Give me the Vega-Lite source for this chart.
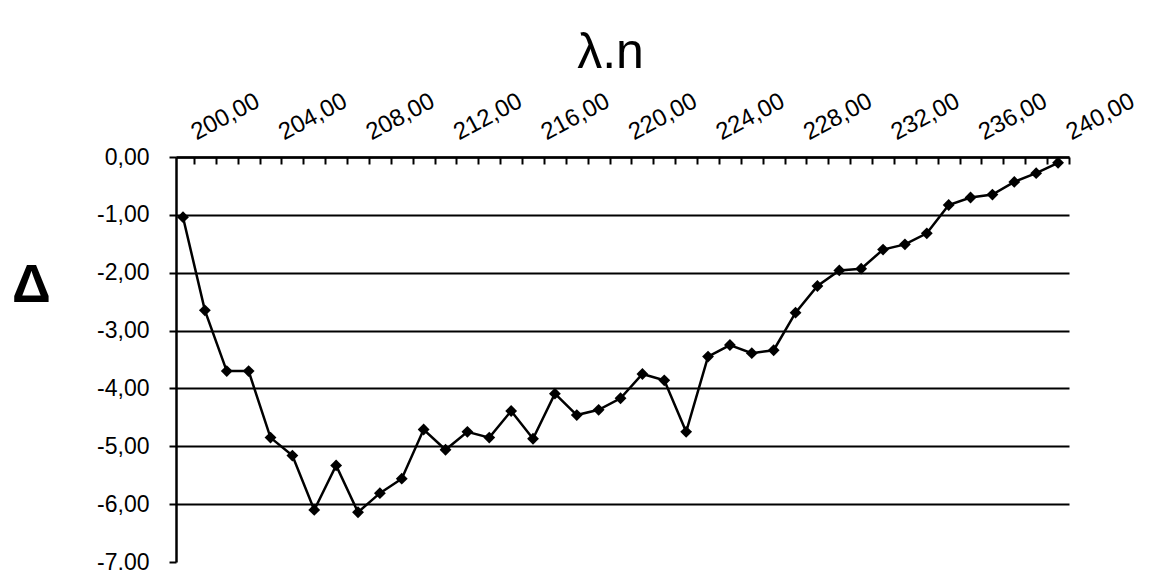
{
  "$schema": "https://vega.github.io/schema/vega-lite/v6.json",
  "autosize": "none",
  "width": 893,
  "height": 405,
  "padding": {"left": 176, "top": 157, "right": 83, "bottom": 8},
  "background": "white",
  "config": {
    "locale": {"number": {"decimal": ",", "thousands": ".", "grouping": [3], "currency": ["", ""], "minus": "-"}},
    "view": {"stroke": null},
    "font": "Liberation Sans"
  },
  "data": {
    "values": [
      {"lambda": 200, "delta": -1.04},
      {"lambda": 201, "delta": -2.65},
      {"lambda": 202, "delta": -3.70},
      {"lambda": 203, "delta": -3.70},
      {"lambda": 204, "delta": -4.85},
      {"lambda": 205, "delta": -5.16},
      {"lambda": 206, "delta": -6.10},
      {"lambda": 207, "delta": -5.33},
      {"lambda": 208, "delta": -6.14},
      {"lambda": 209, "delta": -5.81},
      {"lambda": 210, "delta": -5.56},
      {"lambda": 211, "delta": -4.71},
      {"lambda": 212, "delta": -5.06},
      {"lambda": 213, "delta": -4.75},
      {"lambda": 214, "delta": -4.85},
      {"lambda": 215, "delta": -4.39},
      {"lambda": 216, "delta": -4.87},
      {"lambda": 217, "delta": -4.09},
      {"lambda": 218, "delta": -4.46},
      {"lambda": 219, "delta": -4.37},
      {"lambda": 220, "delta": -4.17},
      {"lambda": 221, "delta": -3.75},
      {"lambda": 222, "delta": -3.86},
      {"lambda": 223, "delta": -4.75},
      {"lambda": 224, "delta": -3.45},
      {"lambda": 225, "delta": -3.25},
      {"lambda": 226, "delta": -3.39},
      {"lambda": 227, "delta": -3.34},
      {"lambda": 228, "delta": -2.69},
      {"lambda": 229, "delta": -2.23},
      {"lambda": 230, "delta": -1.96},
      {"lambda": 231, "delta": -1.93},
      {"lambda": 232, "delta": -1.60},
      {"lambda": 233, "delta": -1.51},
      {"lambda": 234, "delta": -1.32},
      {"lambda": 235, "delta": -0.83},
      {"lambda": 236, "delta": -0.70},
      {"lambda": 237, "delta": -0.65},
      {"lambda": 238, "delta": -0.43},
      {"lambda": 239, "delta": -0.28},
      {"lambda": 240, "delta": -0.10}
    ]
  },
  "resolve": {"axis": {"x": "independent"}},
  "layer": [
    {
      "mark": {"type": "line", "color": "black", "strokeWidth": 2.5},
      "encoding": {
        "x": {
          "field": "lambda", "type": "quantitative",
          "scale": {"domain": [199.68, 240.5], "nice": false, "zero": false},
          "axis": {
            "orient": "top",
            "offset": -7,
            "values": [200.5, 201.5, 202.5, 203.5, 204.5, 205.5, 206.5, 207.5, 208.5, 209.5, 210.5, 211.5, 212.5, 213.5, 214.5, 215.5, 216.5, 217.5, 218.5, 219.5, 220.5, 221.5, 222.5, 223.5, 224.5, 225.5, 226.5, 227.5, 228.5, 229.5, 230.5, 231.5, 232.5, 233.5, 234.5, 235.5, 236.5, 237.5, 238.5, 239.5, 240.5],
            "labels": false,
            "grid": false,
            "domain": false,
            "ticks": true, "tickColor": "black", "tickWidth": 2, "tickSize": 7,
            "title": "λ.n",
            "titleFont": "Liberation Sans", "titleFontSize": 50, "titleFontWeight": "normal", "titleColor": "black",
            "titleBaseline": "alphabetic", "titleAlign": "center", "titleX": 434, "titleY": -97
          }
        },
        "y": {
          "field": "delta", "type": "quantitative",
          "scale": {"domain": [-7, 0], "nice": false, "zero": false},
          "axis": {
            "values": [0, -1, -2, -3, -4, -5, -6, -7],
            "format": ".2f",
            "labelFont": "Liberation Sans", "labelFontSize": 23, "labelColor": "black", "labelPadding": 20,
            "domain": true, "domainColor": "black", "domainWidth": 2.5,
            "ticks": true, "tickColor": "black", "tickWidth": 2, "tickSize": 7,
            "grid": true, "gridColor": "black", "gridWidth": 2,
            "gridOpacity": {"condition": {"test": "datum.value === -7", "value": 0}, "value": 1},
            "title": "Δ",
            "titleFont": "Liberation Sans", "titleFontSize": 54, "titleFontWeight": "bold", "titleColor": "black",
            "titleAngle": 0, "titleAlign": "center", "titleBaseline": "middle",
            "titleX": -145, "titleY": 128
          }
        }
      }
    },
    {
      "mark": {"type": "point", "shape": "diamond", "filled": true, "color": "black", "size": 140, "opacity": 1},
      "encoding": {
        "x": {
          "field": "lambda", "type": "quantitative",
          "axis": {
            "orient": "top",
            "values": [200, 204, 208, 212, 216, 220, 224, 228, 232, 236, 240],
            "format": ".2f",
            "labelAngle": -28, "labelAlign": "left", "labelBaseline": "alphabetic",
            "labelOffset": 13, "labelPadding": 17,
            "labelFont": "Liberation Sans", "labelFontSize": 24, "labelColor": "black",
            "labelOverlap": false, "labelFlush": false, "labelBound": false,
            "domain": true, "domainColor": "black", "domainWidth": 2.5,
            "ticks": false, "grid": false,
            "title": null
          }
        },
        "y": {"field": "delta", "type": "quantitative"}
      }
    }
  ]
}
